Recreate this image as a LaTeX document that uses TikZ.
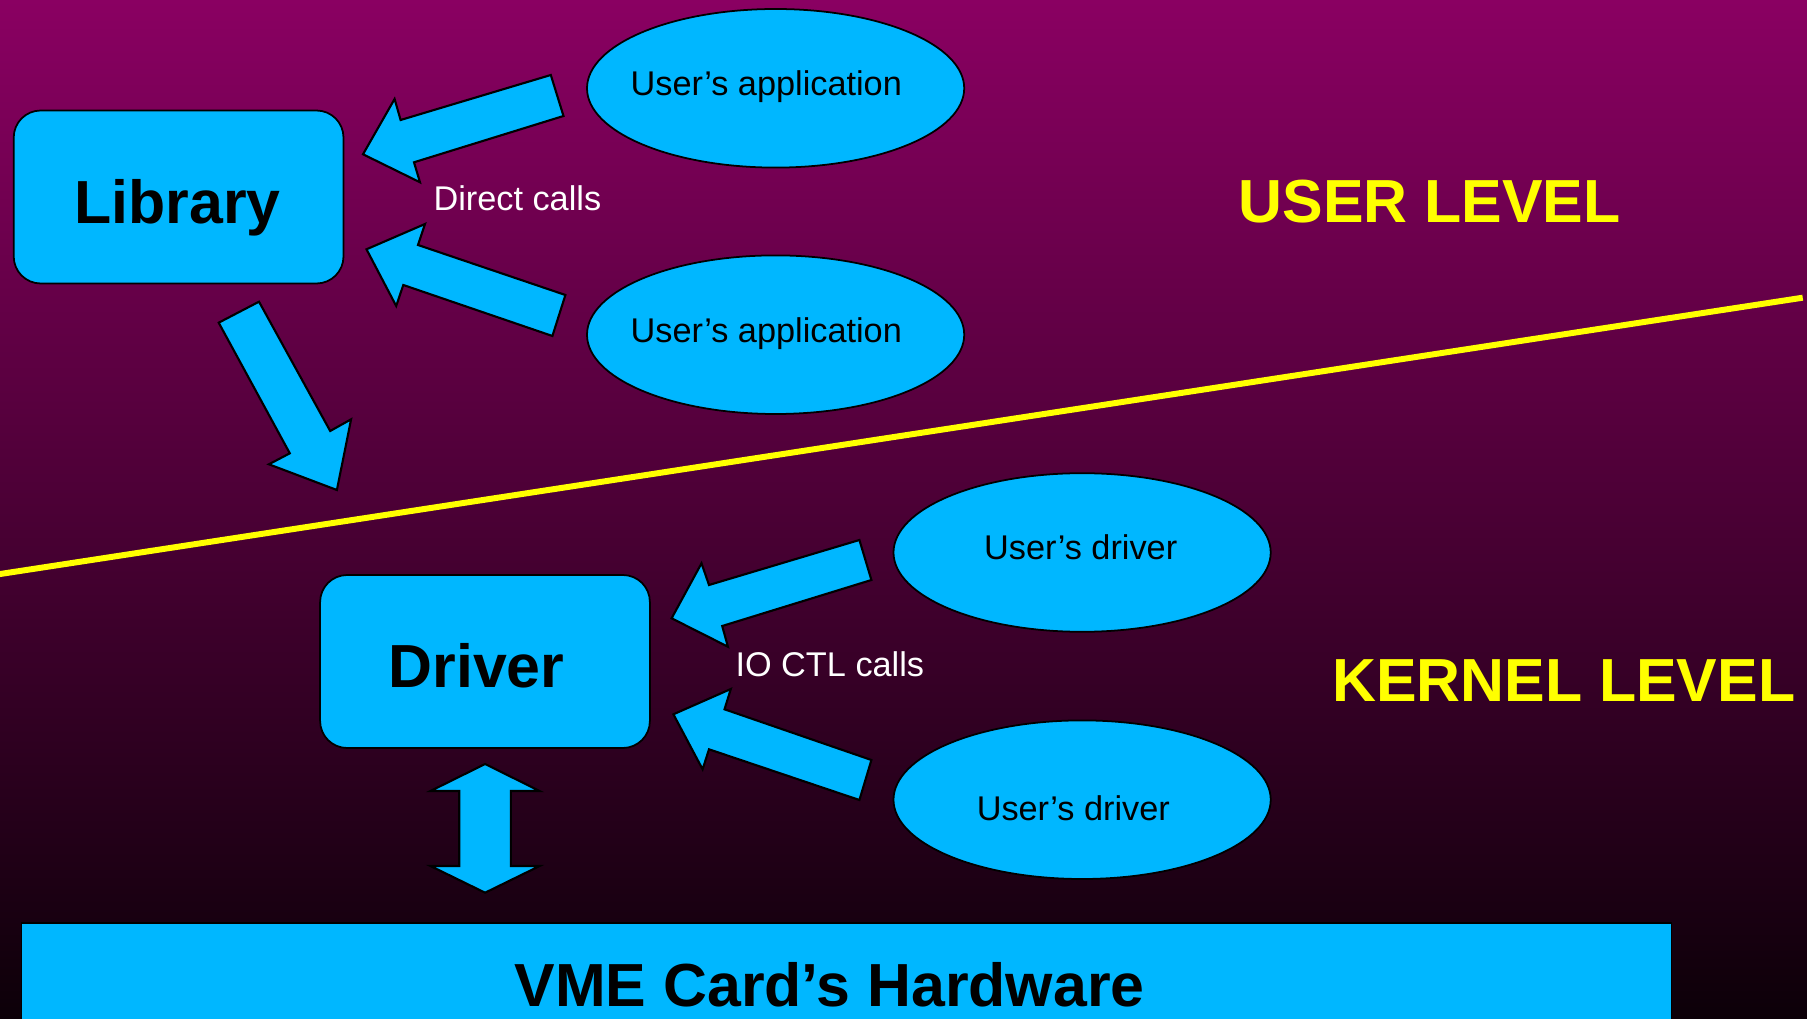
\documentclass[tikz,border=0pt]{standalone}
\usepackage{fontspec}
\setmainfont{Liberation Sans}
\usetikzlibrary{shapes.geometric}

\definecolor{bgtop}{RGB}{138,0,98}
\definecolor{bgbot}{RGB}{12,0,8}
\definecolor{skyfill}{RGB}{0,183,255}
\definecolor{lvlyellow}{RGB}{255,255,0}

\begin{document}
\begin{tikzpicture}[x=0.01cm,y=-0.01cm,
  shapeline/.style={draw=black,line width=0.5pt,fill=skyfill},
  roundbox/.style={shapeline,rectangle,rounded corners=0.27cm,
    minimum width=3.296cm,minimum height=1.729cm,inner sep=0pt},
  appell/.style={shapeline,ellipse,minimum width=3.77cm,
    minimum height=1.585cm,inner sep=0pt},
  hwbox/.style={shapeline,rectangle,minimum width=16.49cm,
    minimum height=1.4cm,inner sep=0pt},
  bigtxt/.style={font=\fontsize{17.3}{20}\selectfont\bfseries,
    anchor=base,inner sep=0pt},
  smalltxt/.style={font=\fontsize{9.75}{12}\selectfont,
    anchor=base,inner sep=0pt},
  blockarrow/.style={draw=black,line width=0.6pt,fill=skyfill,
    line join=miter},
]
% canvas and background gradient
\useasboundingbox (0,0) rectangle (1807,1019);
\shade[top color=bgtop,bottom color=bgbot] (0,0) rectangle (1807,1019);

% boundary between user and kernel space
\draw[lvlyellow,line width=1.7pt] (-5,574.8) -- (1802.7,297.7);

% user level
\node[roundbox] (lib) at (178.6,197) {};
\node[bigtxt] (libtxt) at (177.6,223.3) {Library};

\node[appell] (app1) at (775.6,88.3) {};
\node[smalltxt] (app1txt) at (766.3,95.5) {User’s application};
\node[appell] (app2) at (775.6,334.7) {};
\node[smalltxt] (app2txt) at (766.3,342.3) {User’s application};

\node[smalltxt,text=white] (direct) at (517.4,211) {Direct calls};
\node[bigtxt,text=lvlyellow] (userlvl) at (1429.5,222.7) {USER LEVEL};

% calls from the applications into the library
\draw[blockarrow] (550.8,75) -- (400.6,120) -- (394.6,99) -- (363,154.3)
  -- (420,182.3) -- (414,162.3) -- (563.5,116) -- cycle;
\draw[blockarrow] (565.4,295) -- (418,245) -- (425,224) -- (366.5,249.3)
  -- (396.2,306) -- (403.3,285) -- (552.4,336) -- cycle;
% library down into the kernel
\draw[blockarrow] (259,301.7) -- (330.2,431) -- (351.1,419.3) -- (336.9,490)
  -- (268.9,464.3) -- (289.8,453.3) -- (218.7,322.7) -- cycle;

% kernel level
\node[roundbox] (drv) at (485,661.5) {};
\node[bigtxt] (drvtxt) at (476.5,687.3) {Driver};

\node[appell] (udrv1) at (1082.1,552.5) {};
\node[smalltxt] (udrv1txt) at (1080.7,559.3) {User’s driver};
\node[appell] (udrv2) at (1082.1,799.7) {};
\node[smalltxt] (udrv2txt) at (1073.3,820.7) {User’s driver};

\node[smalltxt,text=white] (ioctl) at (829.8,676) {IO CTL calls};
\node[bigtxt,text=lvlyellow] (kernlvl) at (1563.8,701.7) {KERNEL LEVEL};

% ioctl calls from the user drivers into the driver
\draw[blockarrow] (859.4,540) -- (709,585) -- (701.5,563.3) -- (671.6,618.3)
  -- (727.9,646.7) -- (722.2,626) -- (871.4,580) -- cycle;
\draw[blockarrow] (871.4,760) -- (724.5,709.3) -- (730.8,689) -- (673.4,714.3)
  -- (702.6,769.3) -- (709,749.3) -- (859.4,800) -- cycle;

% hardware card
\node[hwbox] (hw) at (846.5,993.3) {};
\node[bigtxt] (hwtxt) at (829.7,1006.7) {VME Card’s Hardware};

% two-way link between driver and hardware
\draw[blockarrow] (485.1,764) -- (539.6,791) -- (510.9,791) -- (510.9,866)
  -- (539.6,866) -- (485.1,892.7) -- (430.5,866) -- (459.2,866)
  -- (459.2,791) -- (430.5,791) -- cycle;
\end{tikzpicture}
\end{document}
